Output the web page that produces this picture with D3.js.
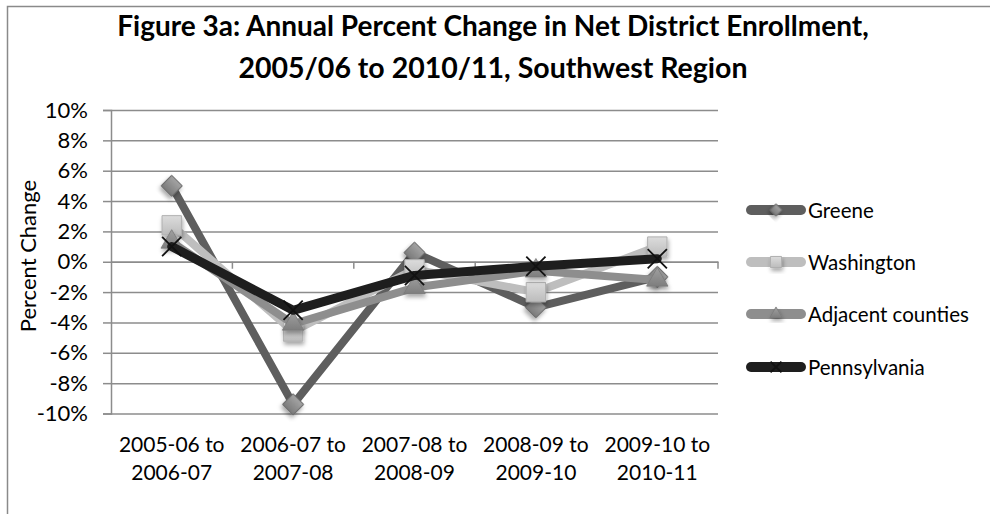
<!DOCTYPE html>
<html><head><meta charset="utf-8">
<script src="https://cdn.jsdelivr.net/npm/d3@7"></script>
<style>
html,body{margin:0;padding:0;background:#fff;}
svg text{font-family:Lato,"Open Sans",sans-serif;fill:#000;}
</style></head>
<body><svg id="c" width="990" height="514"></svg>
<script>
const categories = [["2005-06 to","2006-07"],["2006-07 to","2007-08"],["2007-08 to","2008-09"],["2008-09 to","2009-10"],["2009-10 to","2010-11"]];
const greene = [5.0, -9.4, 0.6, -3.0, -1.0];
const washington = [2.4, -4.6, -0.5, -2.0, 1.0];
const adjacent = [1.3, -4.1, -1.7, -0.6, -1.2];
const pennsylvania = [1.0, -3.2, -0.9, -0.3, 0.2];
const yTicks = [-10,-8,-6,-4,-2,0,2,4,6,8,10];
const seriesNames = ["Greene","Washington","Adjacent counties","Pennsylvania"];
const titleLines = ["Figure 3a: Annual Percent Change in Net District Enrollment,","2005/06 to 2010/11, Southwest Region"];

const svg = d3.select("#c");
const defs = svg.append("defs");
const f = defs.append("filter").attr("id","sh").attr("x","-50%").attr("y","-50%").attr("width","200%").attr("height","200%");
f.append("feDropShadow").attr("dx",1).attr("dy",3).attr("stdDeviation",2).attr("flood-color","#000").attr("flood-opacity",0.35);
function grad(id,c1,c2){const g=defs.append("linearGradient").attr("id",id).attr("x1",0).attr("y1",0).attr("x2",0).attr("y2",1);
 g.append("stop").attr("offset","0%").attr("stop-color",c1);g.append("stop").attr("offset","100%").attr("stop-color",c2);}
grad("gD","#a4a4a4","#7a7a7a");
grad("gS","#dcdcdc","#bcbcbc");
grad("gT","#a0a0a0","#7e7e7e");

// border
svg.append("rect").attr("x",7.5).attr("y",6.5).attr("width",1100).attr("height",1100).attr("fill","none").attr("stroke","#8a8a8a").attr("stroke-width",1.5);

// title
svg.append("text").attr("x",493).attr("y",36).attr("text-anchor","middle").attr("font-size",28).attr("font-weight","bold").text(titleLines[0]);
svg.append("text").attr("x",493).attr("y",78).attr("text-anchor","middle").attr("font-size",28.5).attr("font-weight","bold").text(titleLines[1]);

const x = d3.scaleBand().domain(d3.range(categories.length)).range([111,718]).padding(0);
const y = d3.scaleLinear().domain([-10,10]).range([413.5,110]);
const cx = i => x(i)+x.bandwidth()/2;

// grid
const gridG = svg.append("g").attr("transform","translate(111,0)")
 .call(d3.axisLeft(y).tickValues(yTicks).tickSize(-607).tickFormat(""));
gridG.select(".domain").remove();
gridG.selectAll("line").attr("stroke","#8c8c8c").attr("stroke-width",1.5);
// y axis with ticks
const yG = svg.append("g").attr("transform","translate(111,0)")
 .call(d3.axisLeft(y).tickValues(yTicks).tickSize(8).tickPadding(15).tickFormat(d=>d+"%"));
yG.select(".domain").attr("stroke","#8c8c8c").attr("stroke-width",1.5);
yG.selectAll("line").attr("stroke","#8c8c8c").attr("stroke-width",1.5);
yG.selectAll("text").attr("font-size",22).attr("font-family","Lato").attr("fill","#000");

// x axis at zero
const xG = svg.append("g").attr("transform",`translate(0,${y(0)})`)
 .call(d3.axisBottom(x).tickSize(0).tickFormat(""));
xG.select(".domain").attr("stroke","#8c8c8c").attr("stroke-width",1.5);
xG.selectAll(".tick").remove();
const bounds = d3.range(categories.length+1).map(i => i<categories.length ? x(i) : x(categories.length-1)+x.bandwidth());
xG.selectAll("line.b").data(bounds.slice(1)).join("line").attr("class","b")
 .attr("x1",d=>d).attr("x2",d=>d).attr("y1",0).attr("y2",7).attr("stroke","#8c8c8c").attr("stroke-width",1.5);

// category labels
categories.forEach((c,i)=>{
 const t = svg.append("text").attr("x",cx(i)).attr("text-anchor","middle").attr("font-size",21);
 t.append("tspan").attr("x",cx(i)).attr("y",452).text(c[0]);
 t.append("tspan").attr("x",cx(i)).attr("y",480).text(c[1]);
});

// y title
svg.append("text").attr("transform","translate(36,256) rotate(-90)").attr("text-anchor","middle").attr("font-size",22).text("Percent Change");

const series = [
 {name:seriesNames[0], vals:greene, line:"#5e5e5e", w:8, marker:"diamond"},
 {name:seriesNames[1], vals:washington, line:"#bebebe", w:8, marker:"square"},
 {name:seriesNames[2], vals:adjacent, line:"#8e8e8e", w:8, marker:"triangle"},
 {name:seriesNames[3], vals:pennsylvania, line:"#1e1e1e", w:9, marker:"x"}
];
const lineGen = d3.line().x((d,i)=>cx(i)).y(d=>y(d));

function drawMarker(g, type, px, py, s){
 if(type==="diamond"){
  g.append("path").attr("d",d3.symbol(d3.symbolSquare, s*s*0.5)()).attr("transform",`translate(${px},${py}) rotate(45)`)
   .attr("fill","url(#gD)").attr("stroke","#6a6a6a").attr("stroke-width",1).attr("filter","url(#sh)");
 } else if(type==="square"){
  g.append("path").attr("d",d3.symbol(d3.symbolSquare, s*s*0.85)()).attr("transform",`translate(${px},${py})`)
   .attr("fill","url(#gS)").attr("stroke","#b0b0b0").attr("stroke-width",1).attr("filter","url(#sh)");
 } else if(type==="triangle"){
  g.append("path").attr("d",d3.symbol(d3.symbolTriangle, s*s*0.45)()).attr("transform",`translate(${px},${py})`)
   .attr("fill","url(#gT)").attr("stroke","#7a7a7a").attr("stroke-width",0.8).attr("filter","url(#sh)");
 } else {
  g.append("path").attr("d",d3.symbol(d3.symbolX, s*s*0.55)()).attr("transform",`translate(${px},${py})`)
   .attr("fill","none").attr("stroke","#111").attr("stroke-width",1.8);
 }
}

series.forEach(s=>{
 svg.append("path").datum(s.vals).attr("d",lineGen).attr("fill","none").attr("stroke",s.line)
  .attr("stroke-width",s.w).attr("stroke-linejoin","round").attr("stroke-linecap","round");
 const mg = svg.append("g");
 s.vals.forEach((v,i)=>drawMarker(mg, s.marker, cx(i), y(v), 21));
});

// legend
const legY = [210,262,314,367];
series.forEach((s,i)=>{
 const ly = legY[i];
 svg.append("line").attr("x1",751).attr("x2",801).attr("y1",ly).attr("y2",ly).attr("stroke",s.line)
  .attr("stroke-width",10).attr("stroke-linecap","round");
 const g = svg.append("g");
 drawMarker(g, s.marker, 776, ly, 12);
 svg.append("text").attr("x",808).attr("y",ly+8).attr("font-size",20.5).text(s.name);
});
</script></body></html>
